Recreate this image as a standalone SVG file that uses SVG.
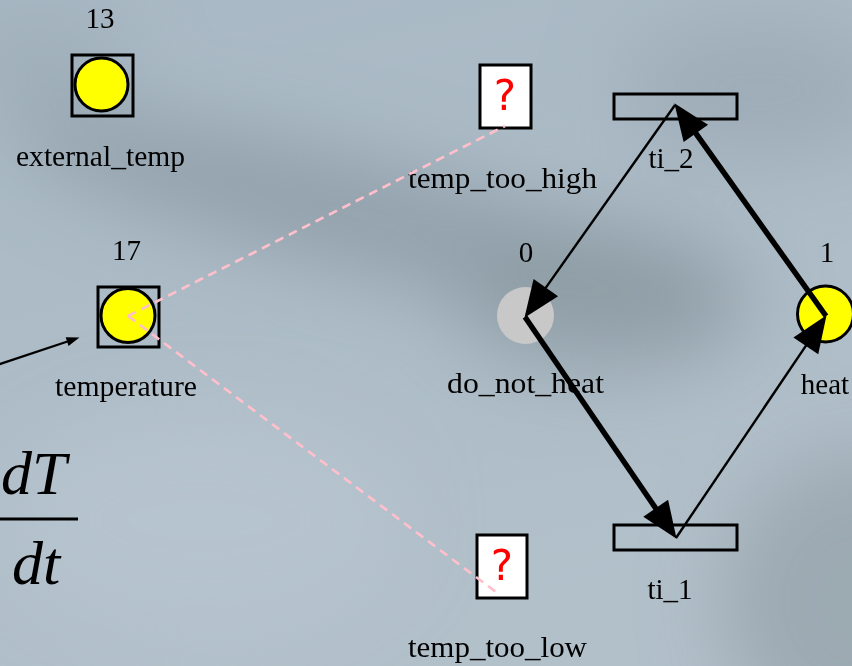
<svg xmlns="http://www.w3.org/2000/svg" width="852" height="666" viewBox="0 0 852 666">
  <defs>
    <style>
      .lbl { font-family: "Liberation Serif", "Times New Roman", serif; font-size: 29px; fill: #000; text-anchor: middle; }
      .q { font-family: "DejaVu Sans", "Liberation Sans", sans-serif; font-size: 42px; fill: #ff0000; text-anchor: middle; }
      .math { font-family: "Liberation Serif", "Times New Roman", serif; font-style: italic; font-size: 62px; fill: #000; }
      .frame { fill: none; stroke: #000; stroke-width: 3; }
      .token { fill: #ffff00; stroke: #000; stroke-width: 3; }
      .qbox { fill: #ffffff; stroke: #000; stroke-width: 3; }
      .thin { fill: none; stroke: #000; stroke-width: 2.4; marker-end: url(#head); }
      .thick { fill: none; stroke: #000; stroke-width: 5.5; marker-end: url(#head); }
      .probe { fill: none; stroke: #ffc0cb; stroke-width: 2.6; stroke-dasharray: 9 6; }
    </style>
    <marker id="head" markerUnits="userSpaceOnUse" markerWidth="38" markerHeight="31" refX="3" refY="15" orient="auto" overflow="visible">
      <path d="M0,0 L37,15 L0,30 Z" fill="#000"/>
    </marker>
    <marker id="small" markerUnits="userSpaceOnUse" markerWidth="14" markerHeight="10" refX="2" refY="4.5" orient="auto" overflow="visible">
      <path d="M0,0 L13,4.5 L0,9 Z" fill="#000"/>
    </marker>
    <linearGradient id="bg" x1="0" y1="0" x2="0.3" y2="1">
      <stop offset="0" stop-color="#a9b9c5"/>
      <stop offset="0.5" stop-color="#adbcc7"/>
      <stop offset="1" stop-color="#b2c0ca"/>
    </linearGradient>
    <filter id="haze" x="-50%" y="-50%" width="200%" height="200%">
      <feGaussianBlur stdDeviation="40"/>
    </filter>
  </defs>

  <!-- backdrop -->
  <rect x="0" y="0" width="852" height="666" fill="url(#bg)"/>
  <g filter="url(#haze)">
    <ellipse cx="380" cy="220" rx="380" ry="55" transform="rotate(14 380 220)" fill="#8a98a1" opacity="0.75"/>
    <ellipse cx="600" cy="300" rx="150" ry="75" fill="#8a98a0" opacity="0.65"/>
    <ellipse cx="760" cy="90" rx="140" ry="70" fill="#94a3ad" opacity="0.6"/>
    <ellipse cx="870" cy="600" rx="150" ry="150" fill="#8a979f" opacity="0.55"/>
    <ellipse cx="40" cy="60" rx="90" ry="50" fill="#96a5af" opacity="0.5"/>
    <ellipse cx="200" cy="520" rx="200" ry="110" fill="#b8c6d0" opacity="0.7"/>
  </g>

  <!-- derivative formula -->
  <g id="formula">
    <text class="math" x="1" y="494">dT</text>
    <line x1="0" y1="519" x2="78" y2="519" stroke="#000" stroke-width="3"/>
    <text class="math" x="12" y="584">dt</text>
  </g>

  <!-- places with values -->
  <g id="external_temp">
    <rect class="frame" x="72" y="55" width="61" height="61"/>
    <circle class="token" cx="101.5" cy="84.5" r="26.5"/>
    <text class="lbl" x="100" y="28">13</text>
    <text class="lbl" x="100.5" y="166" textLength="169" lengthAdjust="spacingAndGlyphs">external_temp</text>
  </g>

  <g id="temperature">
    <rect class="frame" x="98" y="287" width="61" height="60"/>
    <circle class="token" cx="128" cy="315.5" r="27"/>
    <text class="lbl" x="126.5" y="260">17</text>
    <text class="lbl" x="126" y="396" textLength="142" lengthAdjust="spacingAndGlyphs">temperature</text>
  </g>

  <g id="temp_too_high">
    <rect class="qbox" x="480" y="65" width="51" height="63"/>
    <text class="q" x="505" y="110">?</text>
    <text class="lbl" x="502.5" y="188" textLength="189" lengthAdjust="spacingAndGlyphs">temp_too_high</text>
  </g>

  <g id="temp_too_low">
    <rect class="qbox" x="477" y="535" width="50" height="63"/>
    <text class="q" x="502" y="580">?</text>
    <text class="lbl" x="497.5" y="657" textLength="179" lengthAdjust="spacingAndGlyphs">temp_too_low</text>
  </g>

  <g id="do_not_heat">
    <circle cx="525.5" cy="315.5" r="28.5" fill="#c8c8c8"/>
    <text class="lbl" x="526" y="262">0</text>
    <text class="lbl" x="525.5" y="393" textLength="157" lengthAdjust="spacingAndGlyphs">do_not_heat</text>
  </g>

  <g id="heat">
    <circle class="token" cx="825.5" cy="314" r="28"/>
    <text class="lbl" x="827" y="262">1</text>
    <text class="lbl" x="825" y="394">heat</text>
  </g>

  <!-- transitions -->
  <g id="ti_2">
    <rect class="frame" x="614" y="94" width="123" height="25"/>
    <text class="lbl" x="671" y="168">ti_2</text>
  </g>

  <g id="ti_1">
    <rect class="frame" x="614" y="525" width="123" height="25"/>
    <text class="lbl" x="670" y="599">ti_1</text>
  </g>

  <!-- arcs and probes -->
  <g id="connectors">
    <line class="probe" x1="128" y1="316" x2="505" y2="126"/>
    <line class="probe" x1="128" y1="316" x2="500" y2="595"/>
    <line x1="-12" y1="368" x2="69" y2="341" stroke="#000" stroke-width="2.2" marker-end="url(#small)"/>
    <line class="thin" x1="675" y1="105" x2="544.1" y2="290.1"/>
    <line class="thick" x1="525" y1="317" x2="657.4" y2="510.7"/>
    <line class="thin" x1="676" y1="538" x2="807.5" y2="343.4"/>
    <line class="thick" x1="826" y1="316" x2="694.1" y2="130.9"/>
  </g>
</svg>
